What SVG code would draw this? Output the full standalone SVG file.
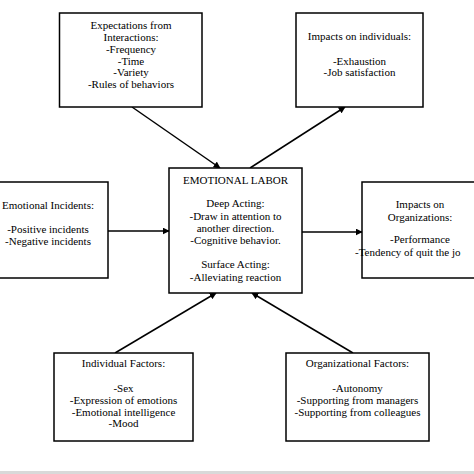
<svg xmlns="http://www.w3.org/2000/svg" width="474" height="474" viewBox="0 0 474 474">
<style>
  .box { fill: #ffffff; stroke: #000000; stroke-width: 1.5; }
  .t { font-family: "Liberation Serif", "Times New Roman", serif; font-size: 11px; fill: #000000; text-anchor: middle; }
  .c { stroke: #000000; stroke-width: 1.5; fill: none; marker-end: url(#arr); }
</style>
<defs>
  <marker id="arr" viewBox="0 0 10 10" refX="9" refY="5" markerWidth="7" markerHeight="7" markerUnits="userSpaceOnUse" orient="auto">
    <path d="M0,0 L10,5 L0,10 z" fill="#000000"/>
  </marker>
</defs>
<rect x="0" y="0" width="474" height="474" fill="#ffffff"/>
<rect x="0" y="471" width="474" height="3" fill="#d9d9d9"/>

<g id="connectors">
  <line class="c" x1="132" y1="107" x2="220" y2="168"/>
  <line class="c" x1="250" y1="168" x2="345" y2="107"/>
  <line class="c" x1="115" y1="353" x2="216" y2="293"/>
  <line class="c" x1="353" y1="353" x2="252" y2="293"/>
  <line class="c" x1="108" y1="231" x2="169" y2="231"/>
  <line class="c" x1="302" y1="232" x2="362" y2="232"/>
</g>

<g id="expectations">
  <rect class="box" x="59.5" y="13" width="142.5" height="94"/>
  <text class="t" x="131" y="29">Expectations from</text>
  <text class="t" x="131" y="41">Interactions:</text>
  <text class="t" x="131" y="53">-Frequency</text>
  <text class="t" x="131" y="65">-Time</text>
  <text class="t" x="131" y="76">-Variety</text>
  <text class="t" x="131" y="88">-Rules of behaviors</text>
</g>

<g id="impacts-individuals">
  <rect class="box" x="296" y="13" width="127" height="94"/>
  <text class="t" x="359.5" y="40">Impacts on individuals:</text>
  <text class="t" x="359.5" y="65">-Exhaustion</text>
  <text class="t" x="359.5" y="76">-Job satisfaction</text>
</g>

<g id="emotional-incidents">
  <rect class="box" x="-12" y="182" width="120" height="96"/>
  <text class="t" x="48" y="209">Emotional Incidents:</text>
  <text class="t" x="48" y="233">-Positive incidents</text>
  <text class="t" x="48" y="245">-Negative incidents</text>
</g>

<g id="emotional-labor">
  <rect class="box" x="169" y="168" width="133" height="125"/>
  <text class="t" x="235.5" y="184">EMOTIONAL LABOR</text>
  <text class="t" x="235.5" y="207">Deep Acting:</text>
  <text class="t" x="235.5" y="220">-Draw in attention to</text>
  <text class="t" x="235.5" y="232">another direction.</text>
  <text class="t" x="235.5" y="244">-Cognitive behavior.</text>
  <text class="t" x="235.5" y="268">Surface Acting:</text>
  <text class="t" x="235.5" y="281">-Alleviating reaction</text>
</g>

<g id="impacts-organizations">
  <rect class="box" x="362" y="182" width="130" height="96"/>
  <text class="t" x="420" y="208">Impacts on</text>
  <text class="t" x="420" y="221">Organizations:</text>
  <text class="t" x="420" y="243">-Performance</text>
  <text class="t" x="355" y="256" style="text-anchor:start">-Tendency of quit the jo</text>
</g>

<g id="individual-factors">
  <rect class="box" x="54" y="353" width="139" height="88"/>
  <text class="t" x="123.5" y="367">Individual Factors:</text>
  <text class="t" x="123.5" y="392">-Sex</text>
  <text class="t" x="123.5" y="404">-Expression of emotions</text>
  <text class="t" x="123.5" y="416">-Emotional intelligence</text>
  <text class="t" x="123.5" y="427">-Mood</text>
</g>

<g id="organizational-factors">
  <rect class="box" x="286" y="353" width="143" height="88"/>
  <text class="t" x="357.5" y="367">Organizational Factors:</text>
  <text class="t" x="357.5" y="392">-Autonomy</text>
  <text class="t" x="357.5" y="404">-Supporting from managers</text>
  <text class="t" x="357.5" y="416">-Supporting from colleagues</text>
</g>
</svg>
